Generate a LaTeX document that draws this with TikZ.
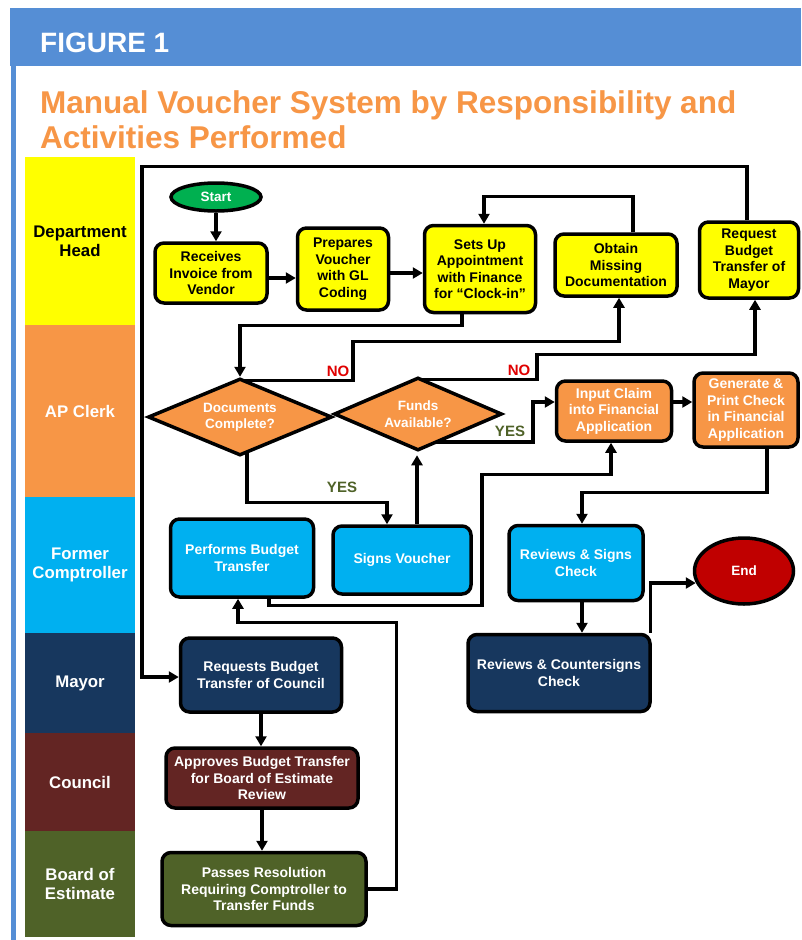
\documentclass[tikz,border=0pt]{standalone}
\usepackage{fontspec}
\setmainfont{Liberation Sans}
\usetikzlibrary{shapes.geometric,arrows.meta,backgrounds}
\definecolor{hdrblue}{HTML}{558ED5}
\definecolor{cyel}{HTML}{FFFF00}
\definecolor{corg}{HTML}{F79646}
\definecolor{ccyan}{HTML}{00B0F0}
\definecolor{cnavy}{HTML}{17375E}
\definecolor{cmaroon}{HTML}{632523}
\definecolor{colive}{HTML}{4F6228}
\definecolor{cgreen}{HTML}{00B050}
\definecolor{cred}{HTML}{C00000}
\definecolor{nored}{HTML}{E00000}
\begin{document}
\begin{tikzpicture}[x=1pt,y=-1pt,
  box/.style={draw=black, line width=3.5pt, rounded corners=9pt, align=center,
    font=\fontsize{14}{16.5}\selectfont\bfseries, inner sep=0pt},
  sz/.style 2 args={minimum width=#1pt, minimum height=#2pt},
  dia/.style={diamond, draw=black, line width=3.5pt, fill=corg, text=white, align=center,
    inner sep=0pt, aspect=2.3, font=\fontsize{13.5}{16.5}\selectfont\bfseries},
  term/.style={ellipse, draw=black, line width=3.5pt, text=white, inner sep=0pt,
    font=\fontsize{13.5}{16}\selectfont\bfseries},
  lane/.style={inner sep=0pt, minimum width=110pt, align=center, text=white,
    font=\fontsize{16.8}{19}\selectfont\bfseries},
  lbl/.style={inner sep=0pt, font=\fontsize{15}{17}\selectfont\bfseries},
  arr/.style={line width=3.4pt, -{Triangle[length=10pt,width=11pt]}}
]
\useasboundingbox (0,0) rectangle (801,940);
% header frame
\fill[hdrblue] (10,8) rectangle (801,66);
\fill[hdrblue] (11,8) rectangle (16,940);
\node[anchor=base west, inner sep=0pt, text=white, font=\fontsize{28}{30}\selectfont\bfseries] (fig) at (40,52) {FIGURE 1};
\node[anchor=base west, inner sep=0pt, text=corg, font=\fontsize{31.5}{35}\selectfont\bfseries] (t1) at (40,113) {Manual Voucher System by Responsibility and};
\node[anchor=base west, inner sep=0pt, text=corg, font=\fontsize{31.5}{35}\selectfont\bfseries] (t2) at (40,148) {Activities Performed};

% lanes
\node[lane, fill=cyel, text=black, minimum height=168pt] (ldept) at (80,241) {Department\\Head};
\node[lane, fill=corg, minimum height=172pt] (lap) at (80,411) {AP Clerk};
\node[lane, fill=ccyan, minimum height=136pt] (lfc) at (80,565) {Former\\Comptroller};
\node[lane, fill=cnavy, minimum height=100pt] (lmay) at (80,683) {Mayor};
\node[lane, fill=cmaroon, minimum height=98pt] (lcou) at (80,782) {Council};
\node[lane, fill=colive, minimum height=106pt] (lboe) at (80,884) {Board of\\Estimate};

% nodes
\node[term, fill=cgreen, minimum width=90pt, minimum height=28pt] (start) at (216,197) {Start};
\node[box, fill=cyel, sz={112}{60}] (recv) at (211,273) {Receives\\Invoice from\\Vendor};
\node[box, fill=cyel, sz={91}{82}] (prep) at (343,269) {Prepares\\Voucher\\with GL\\Coding};
\node[box, fill=cyel, sz={111}{87}] (setup) at (480,269) {Sets Up\\Appointment\\with Finance\\for “Clock-in”};
\node[box, fill=cyel, sz={122}{62}] (obtain) at (616,265) {Obtain\\Missing\\Documentation};
\node[box, fill=cyel, sz={99}{76}] (reqmayor) at (749,260) {Request\\Budget\\Transfer of\\Mayor};
\node[dia, minimum width=184pt, minimum height=77pt] (docs) at (240,417) {Documents\\Complete?};
\node[dia, minimum width=168pt, minimum height=73pt] (funds) at (418,414) {Funds\\Available?};
\node[box, fill=corg, text=white, sz={115}{60}] (input) at (614,411) {Input Claim\\into Financial\\Application};
\node[box, fill=corg, text=white, sz={104}{74}] (gen) at (746,410) {Generate \&\\Print Check\\in Financial\\Application};
\node[box, fill=ccyan, text=white, sz={143}{78}] (perf) at (242,558) {Performs Budget\\Transfer};
\node[box, fill=ccyan, text=white, sz={138}{68}] (signs) at (402,560) {Signs Voucher};
\node[box, fill=ccyan, text=white, sz={134}{75}] (revsign) at (576,563) {Reviews \& Signs\\Check};
\node[term, fill=cred, minimum width=99pt, minimum height=66pt] (endn) at (744,571) {End};
\node[box, fill=cnavy, text=white, sz={161}{74}] (reqcouncil) at (261,675) {Requests Budget\\Transfer of Council};
\node[box, fill=cnavy, text=white, sz={182}{77}] (counter) at (559,673) {Reviews \& Countersigns\\Check};
\node[box, fill=cmaroon, text=white, sz={192}{60}] (approves) at (262,778) {Approves Budget Transfer\\for Board of Estimate\\Review};
\node[box, fill=colive, text=white, sz={204}{73}] (passes) at (264,889) {Passes Resolution\\Requiring Comptroller to\\Transfer Funds};

% labels
\node[lbl, text=nored] (no1) at (338,371) {NO};
\node[lbl, text=nored] (no2) at (519,370) {NO};
\node[lbl, text=colive] (yes1) at (342,487) {YES};
\node[lbl, text=colive] (yes2) at (510,431) {YES};

% connectors
\begin{scope}[on background layer]
\fill[white] (0,0) rectangle (801,940);
\fill[hdrblue] (10,8) rectangle (801,66);
\fill[hdrblue] (11,8) rectangle (16,940);
\draw[arr] (start) -- (start |- recv.north);
\draw[arr] ([yshift=-5pt]recv.east) -- ([yshift=-9pt]prep.west);
\draw[arr] ([yshift=-4pt]prep.east) -- ([yshift=-4pt]setup.west);
\draw[arr] ([xshift=-18pt]setup.south) -- ++(0,11) -| (docs.north);
\draw[arr] ([yshift=-4pt]docs.north) -- ++(113,0) -- ++(0,-39) -| ([xshift=3pt]obtain.south);
\draw[arr] ([yshift=-4pt]funds.north) -- ++(119,0) -- ++(0,-25) -| ([xshift=6pt]reqmayor.south);
\draw[arr] ([yshift=-28pt]funds.center) -- ++(115,0) |- ([yshift=9pt]input.west);
\draw[arr] ([xshift=7pt]docs.center) |- ([xshift=-15pt,yshift=22pt]signs.north) -- ([xshift=-15pt]signs.north);
\draw[arr] ([xshift=15pt]signs.north) -- ([xshift=15pt,yshift=-3pt]signs.north |- funds.south);
\draw[arr] ([yshift=9pt]input.east) -- ([yshift=8pt]gen.west);
\draw[arr] ([xshift=21pt]gen.south) -- ++(0,44) -| ([xshift=6pt]revsign.north);
\draw[arr] ([xshift=27pt]perf.south) -- ++(0,7) -- ++(213,0) -- ++(0,-131) -| ([xshift=-3pt]input.south);
\draw[arr] (passes.east) -- ++(29,0) |- ([xshift=-4pt,yshift=-24pt]perf.south) -- ([xshift=-4pt]perf.south);
\draw[arr] ([xshift=-2pt]reqmayor.north) -- ++(0,-54) -- ++(-605,0) |- ([yshift=-2pt]reqcouncil.west);
\draw[arr] ([xshift=17pt]obtain.north) -- ++(0,-36) -| ([xshift=4pt]setup.north);
\draw[arr] (reqcouncil.south) -- (reqcouncil.south |- approves.north);
\draw[arr] (approves.south) -- (approves.south |- passes.north);
\draw[arr] ([xshift=6pt]revsign.south) -- ([xshift=6pt]revsign.south |- counter.north);
\draw[arr] ([xshift=-1.5pt]counter.north east) |- ([xshift=3pt,yshift=-12pt]endn.west);
\end{scope}
\end{tikzpicture}
\end{document}
